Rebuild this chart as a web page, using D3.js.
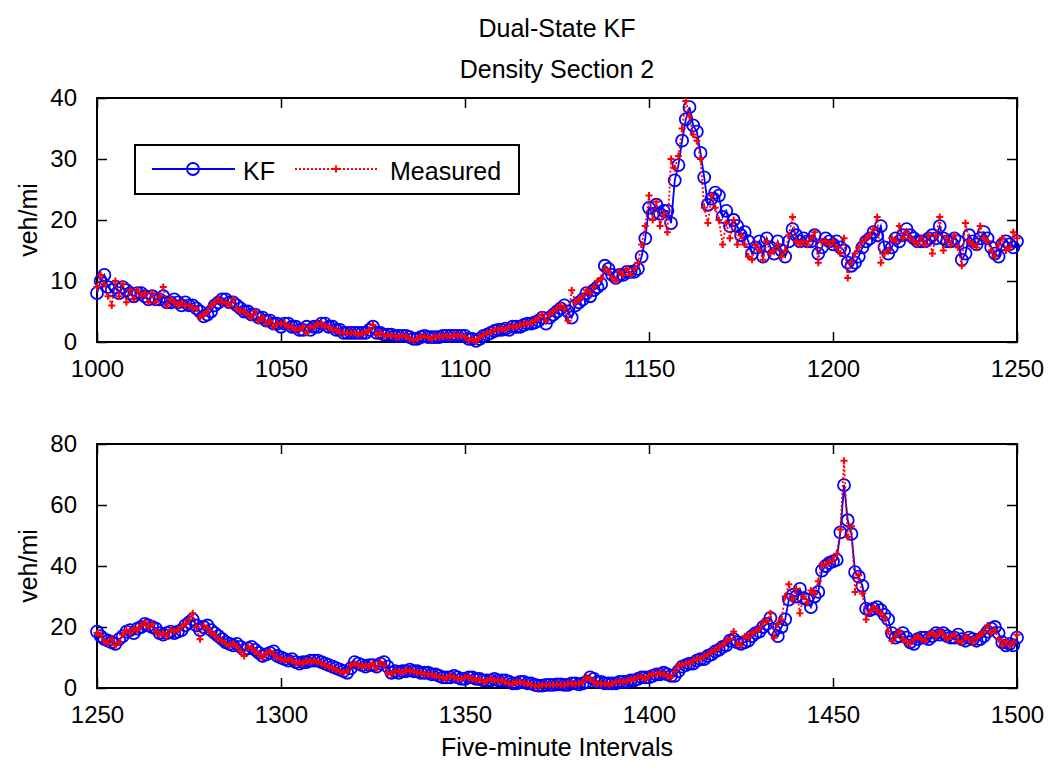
<!DOCTYPE html>
<html>
<head>
<meta charset="utf-8">
<script src="https://cdn.jsdelivr.net/npm/d3@7"></script>
<style>
  body { margin: 0; background: #fff; }
  svg text { font-family: "Liberation Sans", Arial, sans-serif; fill: #000; }
</style>
</head>
<body>
<div id="chart"></div>
<script>
// x ranges of the two panels
var topStart = 1000;
var bottomStart = 1250;

// top panel, 1000..1250
var kfTop = [
  8.0, 10.0, 11.0, 9.0, 8.5, 9.0, 8.0, 9.0, 8.5, 8.0,
  7.5, 8.0, 8.0, 7.5, 7.0, 7.5, 7.0, 7.0, 7.5, 6.5,
  6.5, 7.0, 6.5, 6.0, 6.5, 6.0, 6.0, 5.5, 5.0, 4.2,
  4.5, 5.0, 6.0, 6.5, 7.0, 7.0, 6.5, 6.5, 6.0, 5.5,
  5.0, 5.0, 4.5, 4.5, 4.0, 4.0, 3.5, 3.5, 3.0, 3.0,
  2.5, 3.0, 3.0, 2.5, 2.5, 2.0, 2.0, 2.5, 2.0, 2.5,
  2.5, 3.0, 3.0, 2.5, 2.5, 2.0, 2.0, 1.5, 1.5, 1.5,
  1.5, 1.5, 1.5, 1.5, 2.0, 2.5, 1.5, 1.5, 1.2, 1.2,
  1.2, 1.0, 1.0, 1.0, 1.0, 0.8, 0.5, 0.5, 0.8, 1.0,
  0.8, 0.8, 0.8, 0.8, 1.0, 1.0, 1.0, 1.0, 1.0, 1.0,
  1.0, 0.5, 0.5, 0.2, 0.5, 1.0, 1.2, 1.5, 1.8, 2.0,
  2.0, 2.2, 2.0, 2.5, 2.5, 2.5, 2.8, 3.0, 3.0, 3.2,
  3.5, 4.0, 3.0, 4.0, 4.5, 5.0, 5.5, 6.0, 5.0, 4.0,
  6.0, 6.5, 7.0, 8.0, 7.5, 8.5, 9.0, 9.5, 12.5, 12.0,
  11.0, 10.5, 11.0, 11.0, 11.5, 11.5, 11.5, 12.0, 14.0, 17.0,
  22.0, 21.0, 22.5, 21.0, 21.5, 21.5, 19.5, 26.5, 29.0, 33.0,
  36.5, 38.5, 35.5, 34.5, 31.0, 27.0, 22.5, 23.5, 24.5, 24.0,
  20.5, 21.5, 19.0, 20.0, 19.0, 17.5, 18.0, 16.5, 14.5, 15.5,
  16.5, 14.0, 17.0, 15.5, 14.5, 16.5, 15.0, 14.0, 16.5, 18.5,
  17.5, 16.5, 17.0, 16.5, 16.5, 17.5, 14.5, 15.5, 17.0, 16.5,
  16.0, 16.5, 15.5, 15.0, 13.0, 12.5, 13.0, 14.0, 15.5, 16.5,
  17.0, 18.0, 17.5, 19.0, 15.5, 14.5, 15.5, 17.0, 16.5, 17.5,
  18.5, 17.5, 17.0, 16.5, 16.5, 16.5, 17.0, 17.5, 17.0, 19.0,
  17.0, 16.5, 16.5, 17.0, 16.5, 13.5, 14.5, 17.5, 16.5, 16.0,
  17.0, 18.0, 17.0, 15.5, 14.5, 14.0, 16.0, 16.5, 16.0, 15.5,
  16.5
];
var measTop = [
  9.0, 11.0, 9.5, 7.5, 6.0, 10.0, 7.5, 9.5, 6.5, 8.5,
  7.0, 8.5, 7.5, 8.0, 6.5, 8.0, 6.5, 7.5, 9.0, 6.0,
  7.0, 6.5, 6.0, 6.5, 6.0, 6.0, 5.5, 5.5, 4.0, 4.5,
  5.0, 6.0, 6.5, 7.0, 6.5, 6.5, 6.0, 7.0, 5.5, 5.0,
  5.0, 4.5, 4.0, 5.0, 3.5, 4.0, 3.0, 3.5, 2.5, 3.0,
  3.0, 3.0, 2.5, 2.5, 2.0, 2.0, 2.5, 1.5, 2.5, 2.5,
  3.0, 3.0, 2.5, 2.5, 2.0, 2.0, 1.5, 1.5, 1.5, 1.5,
  1.5, 1.2, 1.5, 1.5, 2.0, 2.8, 1.2, 1.5, 1.0, 1.2,
  1.0, 1.0, 0.8, 1.0, 1.0, 0.5, 0.3, 0.5, 1.0, 0.8,
  0.8, 0.5, 1.0, 0.8, 1.0, 1.0, 0.8, 1.2, 1.0, 1.0,
  0.8, 0.3, 0.5, 0.1, 0.8, 1.2, 1.5, 1.5, 2.0, 2.0,
  2.2, 2.0, 2.5, 2.5, 2.5, 2.8, 3.0, 3.0, 3.2, 3.5,
  4.0, 4.5, 3.5, 4.5, 5.0, 5.5, 6.0, 5.5, 3.5, 8.5,
  6.5, 7.0, 7.5, 8.5, 8.0, 9.0, 10.0, 10.5, 12.0, 11.5,
  10.5, 10.0, 11.5, 11.0, 12.0, 11.0, 12.0, 13.0, 16.0, 19.0,
  24.0, 20.0, 23.0, 19.0, 21.0, 18.0, 30.0, 28.5, 30.5, 35.0,
  39.5, 37.0, 34.0, 33.0, 30.0, 22.0, 19.5, 24.0, 22.0, 20.0,
  16.0, 19.5, 17.0, 20.0, 16.0, 17.5, 16.0, 14.0, 13.5, 16.0,
  15.0, 13.5, 16.5, 14.5, 15.0, 16.0, 14.0, 15.0, 17.5, 20.5,
  16.5, 16.0, 16.5, 16.0, 17.0, 18.0, 13.0, 16.5, 16.5, 16.0,
  16.5, 15.5, 14.5, 17.0, 10.5, 13.0, 14.5, 15.5, 16.5, 17.0,
  17.5, 18.5, 20.5, 13.0, 14.5, 15.0, 17.0, 16.5, 19.0, 17.0,
  18.0, 17.0, 16.5, 16.0, 17.0, 16.0, 17.5, 14.5, 17.5, 20.5,
  15.0, 17.0, 16.0, 17.5, 15.5, 12.5, 19.5, 16.5, 16.0, 15.5,
  19.0, 17.0, 16.5, 15.0, 14.0, 16.0, 17.0, 15.0, 15.5, 18.0,
  17.0
];

// bottom panel, 1250..1500
var kfBottom = [
  18.5, 17.0, 16.0, 15.5, 15.0, 14.5, 16.0, 17.0, 18.5, 19.0,
  18.0, 19.5, 20.0, 21.0, 20.5, 20.0, 19.5, 18.0, 17.5, 18.0,
  18.5, 18.0, 18.5, 19.0, 20.5, 21.5, 22.5, 20.5, 19.0, 20.0,
  20.5, 19.0, 18.0, 17.0, 16.0, 15.0, 14.5, 14.0, 14.5, 13.5,
  12.5, 13.0, 13.5, 12.5, 11.5, 10.5, 11.0, 11.5, 12.0, 10.5,
  10.0, 9.5, 9.0, 9.5, 8.5, 8.0, 8.5, 8.5, 9.0, 9.0,
  9.0, 8.5, 8.0, 7.5, 7.0, 6.5, 6.0, 5.5, 5.0, 6.5,
  8.5, 8.0, 7.5, 7.0, 7.5, 7.5, 7.0, 8.0, 8.5, 7.0,
  5.0, 5.5, 5.0, 5.5, 5.5, 6.0, 5.5, 5.5, 5.0, 5.0,
  5.0, 4.5, 4.5, 4.0, 3.5, 3.5, 3.5, 4.0, 3.5, 3.0,
  3.0, 3.5, 3.5, 3.0, 3.0, 2.5, 2.5, 2.5, 3.0, 2.5,
  2.5, 2.5, 2.0, 1.5, 1.5, 2.0, 2.0, 1.5, 1.5, 1.0,
  0.8, 0.8, 1.0, 1.0, 1.0, 1.2, 1.2, 1.0, 1.0, 1.5,
  1.5, 1.2, 1.5, 2.0, 3.5, 3.0, 2.0, 2.0, 1.5, 1.5,
  1.5, 1.5, 2.0, 2.0, 2.0, 2.5, 2.5, 3.0, 3.5, 3.5,
  3.5, 4.0, 4.5, 4.5, 5.0, 4.5, 4.0, 4.0, 5.5, 7.0,
  7.5, 8.0, 8.0, 9.0, 9.5, 9.5, 10.5, 11.0, 12.0, 12.5,
  13.5, 14.0, 15.5, 16.0, 15.0, 14.5, 15.0, 15.5, 17.0, 18.0,
  18.5, 20.0, 21.0, 23.0, 19.0, 17.0, 20.0, 22.5, 29.0, 30.5,
  30.0, 32.5, 29.5, 29.0, 26.5, 30.0, 31.5, 38.5, 40.0, 41.0,
  41.5, 42.0, 51.0, 66.5, 55.0, 50.5, 38.0, 36.5, 33.5, 26.0,
  25.5, 26.0, 26.5, 25.5, 24.0, 22.5, 18.0, 16.5, 17.0, 18.0,
  16.5, 15.0, 14.5, 16.0, 16.5, 16.5, 16.0, 17.0, 18.0, 17.5,
  18.0, 17.0, 16.5, 16.5, 17.5, 16.0, 15.5, 16.5, 16.0, 15.5,
  16.0, 17.0, 18.5, 19.5, 20.0, 18.0, 15.0, 14.0, 14.5, 14.0,
  16.5
];
var measBottom = [
  18.0, 17.5, 15.5, 14.5, 16.0, 14.0, 15.0, 17.5, 19.0, 18.0,
  19.5, 19.0, 20.5, 21.5, 20.0, 21.0, 18.5, 17.5, 18.0, 17.0,
  19.0, 18.5, 19.0, 20.0, 21.0, 22.5, 24.5, 20.0, 16.0, 20.5,
  19.5, 18.0, 17.5, 16.0, 15.5, 14.5, 14.0, 14.5, 13.5, 12.0,
  10.5, 13.5, 13.0, 12.0, 11.0, 10.0, 11.5, 12.0, 11.0, 10.0,
  9.5, 9.0, 9.5, 9.0, 8.0, 8.5, 8.0, 9.0, 8.5, 9.0,
  8.5, 8.0, 7.5, 7.0, 6.5, 6.0, 5.5, 5.0, 5.5, 7.5,
  8.0, 7.5, 7.0, 7.5, 7.0, 8.0, 6.5, 8.5, 7.5, 5.0,
  4.5, 5.5, 5.5, 5.0, 6.0, 5.5, 5.5, 5.0, 5.0, 4.5,
  4.5, 4.5, 4.0, 3.5, 3.5, 3.0, 4.0, 3.5, 3.0, 3.0,
  3.5, 3.5, 3.0, 2.5, 3.0, 2.0, 2.5, 3.0, 2.5, 2.5,
  2.5, 2.0, 1.5, 1.5, 2.0, 2.0, 1.5, 1.5, 1.0, 0.8,
  0.5, 1.0, 1.0, 1.0, 1.0, 1.2, 1.0, 1.0, 1.5, 1.5,
  1.2, 1.5, 2.0, 3.5, 3.0, 2.0, 1.5, 1.5, 1.5, 1.0,
  1.5, 2.0, 2.0, 2.0, 2.5, 2.5, 3.0, 3.5, 3.5, 3.0,
  4.0, 4.5, 4.5, 5.0, 4.5, 4.0, 3.5, 5.5, 7.5, 7.5,
  8.0, 8.0, 9.0, 9.5, 9.5, 10.5, 11.0, 12.0, 12.5, 13.5,
  14.0, 15.5, 16.0, 18.5, 14.5, 14.0, 17.0, 16.5, 18.0, 18.5,
  19.5, 21.5, 22.0, 24.5, 16.5, 21.0, 22.5, 30.0, 34.0, 29.0,
  32.5, 24.5, 30.0, 28.0, 32.0, 31.0, 35.0, 40.5, 40.5, 41.5,
  42.0, 44.0, 52.0, 74.5, 49.5, 53.0, 31.5, 37.0, 31.0, 22.5,
  25.0, 26.5, 25.5, 24.5, 23.0, 18.5, 15.5, 17.0, 18.5, 16.0,
  15.0, 14.5, 16.0, 17.0, 16.0, 15.5, 17.5, 18.0, 17.0, 18.5,
  17.5, 16.0, 17.0, 17.5, 15.5, 15.0, 17.0, 16.0, 15.0, 16.5,
  17.5, 18.5, 20.5, 18.0, 19.0, 16.0, 14.0, 15.5, 14.0, 15.0,
  17.5
];

var topXTicks = [1000, 1050, 1100, 1150, 1200, 1250];
var topYTicks = [0, 10, 20, 30, 40];
var bottomXTicks = [1250, 1300, 1350, 1400, 1450, 1500];
var bottomYTicks = [0, 20, 40, 60, 80];

var seriesNames = ["KF", "Measured"];

var W = 1054, H = 772;
var left = 97, right = 1017;
var tickFont = "24px", labelFont = "25px";

var svg = d3.select("#chart").append("svg")
  .attr("width", W)
  .attr("height", H);

// main title
svg.append("text")
  .attr("x", (left + right) / 2)
  .attr("y", 37)
  .attr("text-anchor", "middle")
  .style("font-size", labelFont)
  .text("Dual-State KF");

function drawPanel(opts) {
  var x = d3.scaleLinear().domain([opts.x0, opts.x0 + 250]).range([left, right]);
  var y = d3.scaleLinear().domain([0, opts.ymax]).range([opts.bottom, opts.top]);

  var g = svg.append("g");

  // ticks (inward, on all four sides) and labels
  g.append("g")
    .attr("transform", "translate(0," + opts.bottom + ")")
    .call(d3.axisBottom(x).tickValues(opts.xTicks).tickFormat(d3.format("d"))
      .tickSizeInner(-10).tickSizeOuter(0).tickPadding(18))
    .call(function (a) { a.select(".domain").remove(); });
  g.append("g")
    .attr("transform", "translate(0," + opts.top + ")")
    .call(d3.axisTop(x).tickValues(opts.xTicks).tickSizeInner(-10).tickSizeOuter(0).tickFormat(""))
    .call(function (a) { a.select(".domain").remove(); });
  g.append("g")
    .attr("transform", "translate(" + left + ",0)")
    .call(d3.axisLeft(y).tickValues(opts.yTicks).tickSizeInner(-10).tickSizeOuter(0).tickPadding(20))
    .call(function (a) { a.select(".domain").remove(); });
  g.append("g")
    .attr("transform", "translate(" + right + ",0)")
    .call(d3.axisRight(y).tickValues(opts.yTicks).tickSizeInner(-10).tickSizeOuter(0).tickFormat(""))
    .call(function (a) { a.select(".domain").remove(); });

  g.selectAll(".tick line").attr("stroke", "#000").attr("stroke-width", 1.5);
  g.selectAll(".tick text")
    .attr("font-size", null)
    .style("font-size", tickFont)
    .style("font-family", "'Liberation Sans', Arial, sans-serif")
    .attr("fill", "#000");

  // box
  g.append("rect")
    .attr("x", left).attr("y", opts.top)
    .attr("width", right - left).attr("height", opts.bottom - opts.top)
    .attr("fill", "none").attr("stroke", "#000").attr("stroke-width", 2);

  var kfData = opts.kf.map(function (v, i) { return [opts.x0 + i, v]; });
  var measData = opts.meas.map(function (v, i) { return [opts.x0 + i, v]; });

  var line = d3.line()
    .x(function (d) { return x(d[0]); })
    .y(function (d) { return y(d[1]); });

  // KF: blue solid line with circles
  g.append("path")
    .datum(kfData)
    .attr("d", line)
    .attr("fill", "none")
    .attr("stroke", "#0000ff")
    .attr("stroke-width", 1.8);
  g.selectAll(".kfpt")
    .data(kfData)
    .enter()
    .append("circle")
    .attr("class", "kfpt")
    .attr("cx", function (d) { return x(d[0]); })
    .attr("cy", function (d) { return y(d[1]); })
    .attr("r", 6)
    .attr("fill", "none")
    .attr("stroke", "#0000ff")
    .attr("stroke-width", 1.8);

  // Measured: red dotted line with plus marks
  g.append("path")
    .datum(measData)
    .attr("d", line)
    .attr("fill", "none")
    .attr("stroke", "#ff0000")
    .attr("stroke-width", 1.8)
    .attr("stroke-dasharray", "2,2");
  g.selectAll(".mpt")
    .data(measData)
    .enter()
    .append("path")
    .attr("class", "mpt")
    .attr("d", function (d) {
      var cx = x(d[0]), cy = y(d[1]);
      return "M" + (cx - 3.5) + "," + cy + "H" + (cx + 3.5) + "M" + cx + "," + (cy - 3.5) + "V" + (cy + 3.5);
    })
    .attr("stroke", "#ff0000")
    .attr("stroke-width", 2);

  // y label
  svg.append("text")
    .attr("transform", "translate(" + 37 + "," + ((opts.top + opts.bottom) / 2) + ") rotate(-90)")
    .attr("text-anchor", "middle")
    .style("font-size", labelFont)
    .text("veh/mi");

  return g;
}

// top panel
drawPanel({ x0: topStart, ymax: 40, top: 98, bottom: 342, xTicks: topXTicks, yTicks: topYTicks, kf: kfTop, meas: measTop });
svg.append("text")
  .attr("x", (left + right) / 2)
  .attr("y", 78)
  .attr("text-anchor", "middle")
  .style("font-size", labelFont)
  .text("Density Section 2");

// bottom panel
drawPanel({ x0: bottomStart, ymax: 80, top: 444, bottom: 688, xTicks: bottomXTicks, yTicks: bottomYTicks, kf: kfBottom, meas: measBottom });
svg.append("text")
  .attr("x", (left + right) / 2)
  .attr("y", 756)
  .attr("text-anchor", "middle")
  .style("font-size", labelFont)
  .text("Five-minute Intervals");

// legend
var lg = svg.append("g");
lg.append("rect")
  .attr("x", 135).attr("y", 145)
  .attr("width", 384).attr("height", 49)
  .attr("fill", "#fff").attr("stroke", "#000").attr("stroke-width", 2);
var ly = 169;
lg.append("line").attr("x1", 152).attr("x2", 235).attr("y1", ly).attr("y2", ly)
  .attr("stroke", "#0000ff").attr("stroke-width", 1.8);
lg.append("circle").attr("cx", 193).attr("cy", ly).attr("r", 6)
  .attr("fill", "none").attr("stroke", "#0000ff").attr("stroke-width", 1.8);
lg.append("text").attr("x", 243).attr("y", 180).style("font-size", labelFont).text(seriesNames[0]);
lg.append("line").attr("x1", 295).attr("x2", 378).attr("y1", ly).attr("y2", ly)
  .attr("stroke", "#ff0000").attr("stroke-width", 1.8).attr("stroke-dasharray", "2,2");
lg.append("path")
  .attr("d", "M" + 336 + "," + ly + "m-3.5,0h7m-3.5,-3.5v7")
  .attr("stroke", "#ff0000").attr("stroke-width", 2);
lg.append("text").attr("x", 390).attr("y", 180).style("font-size", labelFont).text(seriesNames[1]);
</script>
</body>
</html>
